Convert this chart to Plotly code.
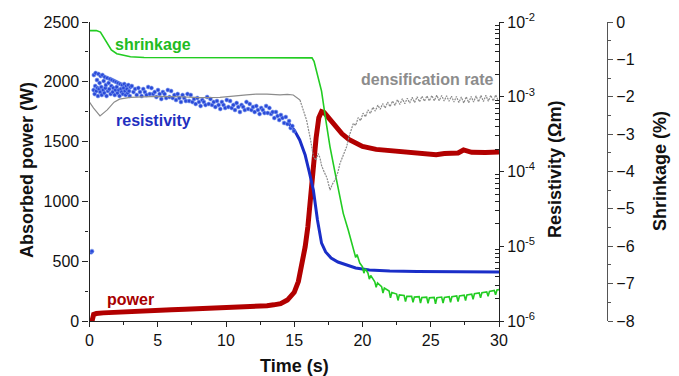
import plotly.graph_objects as go

# ---------------- data ----------------
power_t = [0, 0.2, 0.3, 0.5, 1, 2, 3, 4, 5, 6, 7, 8, 9, 10, 11, 12, 13, 13.5, 14, 14.5,
           15, 15.3, 15.6, 15.8, 16.0, 16.2, 16.4, 16.6, 16.8, 17.0, 17.2, 17.5, 18, 18.5,
           19, 19.5, 20, 21, 22, 22.3, 23, 24, 25, 25.4, 26, 27, 27.4, 28, 29, 30]
power_w = [0, 5, 55, 62, 68, 75, 82, 88, 92, 95, 98, 102, 105, 108, 113, 120, 128, 135, 145, 175,
           240, 330, 480, 620, 790, 1050, 1290, 1530, 1700, 1750, 1742, 1700, 1630, 1565,
           1518, 1485, 1460, 1435, 1425, 1418, 1410, 1405, 1400, 1390, 1400, 1405, 1430, 1410, 1408, 1412]

res_sc_t = [0.12, 0.18,
            0.30, 0.32, 0.38, 0.42, 0.45, 0.50, 0.55, 0.58, 0.62, 0.66, 0.70, 0.74, 0.78, 0.82,
            0.86, 0.90, 0.95, 1.00, 1.04, 1.08, 1.12, 1.16, 1.20, 1.25, 1.30, 1.35, 1.40, 1.45,
            1.50, 1.55, 1.60, 1.65, 1.70, 1.75, 1.80, 1.85, 1.90, 1.95, 2.00, 2.05, 2.10, 2.15,
            2.20, 2.25, 2.30, 2.35, 2.40, 2.45, 2.50, 2.55, 2.60, 2.65, 2.70, 2.75, 2.80, 2.85,
            2.90, 2.95, 3.00,
            3.10, 3.22, 3.34, 3.46, 3.58, 3.70, 3.82, 3.94, 4.06, 4.18,
            4.30, 4.42, 4.54, 4.66, 4.78, 4.90, 5.02, 5.14, 5.26, 5.38,
            5.50, 5.62, 5.74, 5.86, 5.98, 6.10, 6.22, 6.34, 6.46, 6.58,
            6.70, 6.82, 6.94, 7.06, 7.18, 7.30, 7.42, 7.54, 7.66, 7.78,
            7.90, 8.02, 8.14, 8.26, 8.38, 8.50, 8.62, 8.74, 8.86, 8.98,
            9.10, 9.22, 9.34, 9.46, 9.58, 9.70, 9.82, 9.94, 10.06, 10.18,
            10.30, 10.42, 10.54, 10.66, 10.78, 10.90, 11.02, 11.14, 11.26, 11.38,
            11.50, 11.62, 11.74, 11.86, 11.98, 12.10, 12.22, 12.34, 12.46, 12.58,
            12.70, 12.82, 12.94, 13.06, 13.18, 13.30, 13.42, 13.54, 13.66, 13.78,
            13.90, 14.02, 14.14, 14.26, 14.38, 14.50, 14.62, 14.74, 14.86, 14.98]
res_sc_v = [8.3e-6, 8.6e-6,
            1.230e-3, 1.951e-3, 1.088e-3, 1.391e-3, 2.075e-3, 1.193e-3, 1.673e-3, 1.308e-3,
            1.023e-3, 2.012e-3, 1.268e-3, 1.525e-3, 1.157e-3, 1.892e-3, 1.349e-3, 1.055e-3,
            1.951e-3, 1.230e-3, 1.622e-3, 1.122e-3, 1.835e-3, 1.308e-3, 1.434e-3, 1.023e-3,
            1.779e-3, 1.193e-3, 1.525e-3, 1.268e-3, 1.725e-3, 1.088e-3, 1.391e-3, 1.673e-3,
            1.157e-3, 1.308e-3, 1.622e-3, 1.055e-3, 1.230e-3, 1.573e-3, 1.349e-3, 1.122e-3,
            1.525e-3, 1.230e-3, 1.023e-3, 1.479e-3, 1.268e-3, 1.157e-3, 1.434e-3, 1.088e-3,
            1.308e-3, 1.479e-3, 1.193e-3, 1.055e-3, 1.391e-3, 1.268e-3, 1.122e-3, 1.434e-3,
            1.193e-3, 1.023e-3, 1.349e-3,
            1.391e-3, 1.157e-3, 1.268e-3, 1.055e-3, 1.308e-3, 1.157e-3, 1.023e-3, 1.268e-3, 1.157e-3, 1.055e-3,
            1.349e-3, 1.088e-3, 1.308e-3, 1.088e-3, 1.157e-3, 9.92e-4, 1.230e-3, 1.088e-3, 9.33e-4, 1.157e-3,
            1.088e-3, 9.62e-4, 1.230e-3, 9.92e-4, 1.193e-3, 9.62e-4, 1.055e-3, 9.05e-4, 1.088e-3, 9.62e-4,
            8.51e-4, 1.055e-3, 9.62e-4, 8.77e-4, 1.088e-3, 8.77e-4, 1.055e-3, 8.51e-4, 9.33e-4, 8.00e-4,
            9.62e-4, 8.51e-4, 7.52e-4, 9.05e-4, 8.51e-4, 7.76e-4, 9.92e-4, 8.00e-4, 9.33e-4, 7.76e-4,
            8.51e-4, 7.30e-4, 8.77e-4, 7.76e-4, 6.86e-4, 8.51e-4, 7.76e-4, 7.08e-4, 9.05e-4, 7.30e-4,
            8.77e-4, 7.08e-4, 7.76e-4, 6.65e-4, 8.25e-4, 7.30e-4, 6.25e-4, 7.76e-4, 7.30e-4, 6.65e-4,
            8.51e-4, 6.86e-4, 8.00e-4, 6.65e-4, 7.30e-4, 6.25e-4, 7.52e-4, 6.65e-4, 5.88e-4, 7.08e-4,
            6.65e-4, 6.07e-4, 7.52e-4, 6.07e-4, 7.08e-4, 5.88e-4, 6.25e-4, 5.20e-4, 6.25e-4, 5.53e-4,
            4.89e-4, 5.70e-4, 5.20e-4, 4.46e-4, 5.36e-4, 4.32e-4, 4.74e-4, 3.82e-4, 4.06e-4, 3.48e-4]

res_ln_t = [14.5, 15.0, 15.4, 15.8, 16.1, 16.4, 16.7, 17.0, 17.3, 17.7, 18.2,
            18.8, 19.5, 20.5, 22, 24, 26, 28, 30]
res_ln_v = [4.6e-4, 3.59e-4, 2.64e-4, 1.66e-4, 9.84e-5, 5.66e-5, 2.24e-5,
            1.10e-5, 8.4e-6, 6.97e-6, 6.15e-6, 5.61e-6, 5.12e-6, 4.81e-6, 4.67e-6, 4.6e-6, 4.55e-6,
            4.53e-6, 4.53e-6]

shr_t = [0, 0.5, 0.8, 1.0, 1.3, 1.6, 2.0, 2.5, 3.0, 4.0, 6, 8, 10, 12, 14, 16.0, 16.3, 16.45,
         16.6, 16.76, 17.0, 17.3, 17.62, 18.0, 18.3, 18.59, 18.96, 19.33,
         19.5, 19.6, 19.8, 20.0, 20.1, 20.2, 20.4, 20.5, 20.6, 20.9, 21.0, 21.1, 21.4, 21.5, 21.6,
         21.95, 22.05, 22.15, 22.5, 22.6, 22.7,
         23.05, 23.15, 23.25, 23.6, 23.7, 23.8, 24.15, 24.25, 24.35, 24.7, 24.8, 24.9,
         25.25, 25.35, 25.45, 25.8, 25.9, 26.0, 26.35, 26.45, 26.55, 26.9, 27.0, 27.1,
         27.45, 27.55, 27.65, 28.0, 28.1, 28.2, 28.55, 28.65, 28.75, 29.1, 29.2, 29.3,
         29.65, 29.75, 29.85, 30.0]
shr_v = [-0.23, -0.23, -0.27, -0.39, -0.58, -0.75, -0.85, -0.90, -0.93, -0.95, -0.95, -0.95, -0.95,
         -0.95, -0.95, -0.95, -0.96, -1.05, -1.28, -1.55, -1.85, -2.6, -3.34, -4.05, -4.6, -5.12,
         -5.57, -6.10,
         -6.30, -6.22, -6.45, -6.55, -6.72, -6.60, -6.72, -6.88, -6.78, -6.95, -7.10, -6.98,
         -7.08, -7.25, -7.12, -7.20, -7.38, -7.24, -7.28, -7.45, -7.30,
         -7.32, -7.48, -7.34, -7.34, -7.50, -7.36, -7.35, -7.52, -7.37, -7.36, -7.53, -7.38,
         -7.37, -7.54, -7.38, -7.36, -7.52, -7.37, -7.35, -7.50, -7.35, -7.33, -7.48, -7.33,
         -7.31, -7.45, -7.30, -7.28, -7.42, -7.27, -7.25, -7.38, -7.24, -7.22, -7.34, -7.21,
         -7.18, -7.30, -7.17, -7.16]

dens_a_t = [0, 0.3, 0.77, 1.3, 1.8, 2.2, 2.97, 4, 5, 6.6, 8, 9.56, 10.5, 11.5, 12.2, 13, 13.96,
            14.5, 14.93, 15.42]
dens_a_v = [73.2, 71.2, 68.6, 70.6, 73.2, 74.2, 74.8, 74.9, 75.1, 75.0, 74.7, 74.8, 75.3, 75.6,
            75.9, 75.9, 75.6, 75.8, 75.6, 73.9]
dens_b_t = [15.42, 15.9, 16.2, 16.4, 16.6, 16.75, 16.89, 17.0, 17.13, 17.4, 17.62, 17.8, 17.99,
            18.2, 18.35, 18.6, 18.84, 19.0, 19.15, 19.33,
            19.5, 19.68, 19.86, 20.04, 20.22, 20.4, 20.58, 20.76, 20.94, 21.12, 21.3, 21.48,
            21.66, 21.84, 22.02, 22.2, 22.38, 22.56, 22.74, 22.92, 23.1, 23.28, 23.46, 23.64,
            23.82, 24.0, 24.18, 24.36, 24.54, 24.72, 24.9, 25.08, 25.26, 25.44, 25.62, 25.8,
            25.98, 26.16, 26.34, 26.52, 26.7, 26.88, 27.06, 27.24, 27.42, 27.6, 27.78, 27.96,
            28.14, 28.32, 28.5, 28.68, 28.86, 29.04, 29.22, 29.4, 29.58, 29.76, 29.94]
dens_b_v = [73.9, 67.2, 60.5, 55.0, 53.8, 56.0, 54.5, 52.0, 50.5, 47.8, 43.8, 45.8, 47.2,
            49.8, 52.7, 55.5, 58.3, 61.5, 63.8, 66.1,
            65.4, 68.0, 67.0, 69.5, 68.3, 70.6, 69.4, 71.5, 70.2, 72.2, 70.8, 72.7,
            71.2, 73.2, 71.7, 73.6, 72.1, 74.0, 72.4, 74.3, 72.7, 74.5, 72.9, 74.8,
            73.1, 75.0, 73.3, 75.2, 73.5, 75.3, 73.6, 75.4, 73.7, 75.5, 73.7, 75.4,
            73.6, 75.3, 73.5, 75.2, 73.2, 75.1, 73.1, 74.9, 72.9, 75.0, 73.0, 75.1,
            73.2, 75.3, 73.3, 75.4, 73.4, 75.5, 73.5, 75.5, 73.6, 75.6, 73.7]

x_ticks = [0, 5, 10, 15, 20, 25, 30]
p_ticks = [0, 500, 1000, 1500, 2000, 2500]
r_ticks = [1e-6, 1e-5, 1e-4, 1e-3, 1e-2]
r_ticktext = ["10<sup>-6</sup>", "10<sup>-5</sup>", "10<sup>-4</sup>", "10<sup>-3</sup>", "10<sup>-2</sup>"]
s_ticks = [0, -1, -2, -3, -4, -5, -6, -7, -8]

# ---------------- figure ----------------
W, H = 679, 376
X0, X1 = 89.5, 499.0
Y0, Y1 = 22.0, 321.0
FONT = "Arial, Liberation Sans, sans-serif"
AX = "#222222"

fig = go.Figure()

fig.add_trace(go.Scatter(x=dens_a_t, y=dens_a_v, yaxis="y4", mode="lines",
                         line=dict(color="#8c8c8c", width=1.2), showlegend=False))
fig.add_trace(go.Scatter(x=dens_b_t, y=dens_b_v, yaxis="y4", mode="lines",
                         line=dict(color="#8a8a8a", width=1.2, dash="2px,1px"), showlegend=False))
fig.add_trace(go.Scatter(x=power_t, y=power_w, mode="lines",
                         line=dict(color="#b20000", width=5), showlegend=False))
fig.add_trace(go.Scatter(x=res_ln_t, y=res_ln_v, yaxis="y2", mode="lines",
                         line=dict(color="#1a2ec8", width=3), showlegend=False))
fig.add_trace(go.Scatter(x=res_sc_t, y=res_sc_v, yaxis="y2", mode="markers",
                         marker=dict(color="#2a4ad8", size=4,
                                     line=dict(color="#7f9cf0", width=0.6)),
                         showlegend=False))
fig.add_trace(go.Scatter(x=shr_t, y=shr_v, yaxis="y3", mode="lines",
                         line=dict(color="#22cc22", width=1.6), showlegend=False))

minor_log = [m * 10.0 ** d for d in range(-6, -2) for m in range(2, 10)]

xdom = [X0 / W, X1 / W]
ydom = [1 - Y1 / H, 1 - Y0 / H]
tickfont = dict(family=FONT, size=16, color="#111111")

fig.update_layout(
    template="none",
    width=W, height=H,
    margin=dict(l=0, r=0, t=0, b=0, pad=0),
    paper_bgcolor="white", plot_bgcolor="white",
    font=dict(family=FONT),
    showlegend=False,
    xaxis=dict(domain=xdom, range=[0, 30], tickvals=x_ticks, showgrid=False, zeroline=False,
               showline=True, linecolor=AX, linewidth=1.2, ticks="outside", ticklen=5,
               tickcolor=AX, tickfont=tickfont, anchor="y", automargin=False,
               minor=dict(dtick=2.5, tick0=0, ticks="outside", ticklen=3, tickcolor=AX)),
    yaxis=dict(domain=ydom, range=[0, 2500], tickvals=p_ticks, showgrid=False, zeroline=False,
               showline=True, linecolor=AX, linewidth=1.2, ticks="outside", ticklen=6,
               tickcolor=AX, tickfont=tickfont, anchor="x", automargin=False,
               minor=dict(dtick=250, tick0=0, ticks="outside", ticklen=3, tickcolor=AX)),
    yaxis2=dict(domain=ydom, type="log", range=[-6, -2], overlaying="y", side="right",
                anchor="x", tickvals=r_ticks, ticktext=r_ticktext, showgrid=False,
                zeroline=False, showline=True, linecolor=AX, linewidth=1.2, ticks="outside",
                ticklen=4, tickcolor=AX, tickfont=tickfont, automargin=False,
                minor=dict(tickvals=minor_log, ticks="inside", ticklen=4, tickcolor=AX)),
    yaxis3=dict(domain=ydom, range=[-8, 0], overlaying="y", side="right", anchor="free",
                position=607 / W, tickvals=s_ticks, showgrid=False, zeroline=False,
                showline=True, linecolor="#555555", linewidth=1.2, ticks="outside", ticklen=5,
                tickcolor="#555555", tickfont=tickfont, automargin=False,
                minor=dict(dtick=0.5, tick0=0, ticks="outside", ticklen=3, tickcolor="#555555")),
    yaxis4=dict(domain=ydom, range=[0, 100], overlaying="y", visible=False, anchor="x",
                automargin=False),
)

def px(xp):
    return xp / W

def py(yp):
    return 1 - yp / H

title_font = dict(family=FONT, size=18, color="#111111")
label_font = dict(family=FONT, size=16)
annots = [
    dict(text="<b>Absorbed power (W)</b>", x=px(27), y=py(170), textangle=-90, font=title_font),
    dict(text="<b>Time (s)</b>", x=px(294), y=py(366), font=title_font),
    dict(text="<b>Resistivity (Ωm)</b>", x=px(555), y=py(170), textangle=-90, font=title_font),
    dict(text="<b>Shrinkage (%)</b>", x=px(660), y=py(171), textangle=-90, font=title_font),
    dict(text="<b>shrinkage</b>", x=px(153), y=py(45), font=dict(label_font, color="#22bb22")),
    dict(text="<b>resistivity</b>", x=px(153), y=py(121), font=dict(label_font, color="#1f30c0")),
    dict(text="<b>densification rate</b>", x=px(427), y=py(80), font=dict(label_font, color="#8c8c8c")),
    dict(text="<b>power</b>", x=px(130), y=py(299), font=dict(label_font, color="#a80000")),
]
for a in annots:
    a.update(xref="paper", yref="paper", showarrow=False, xanchor="center", yanchor="middle")
fig.update_layout(annotations=annots)

fig.write_html("out.html")
